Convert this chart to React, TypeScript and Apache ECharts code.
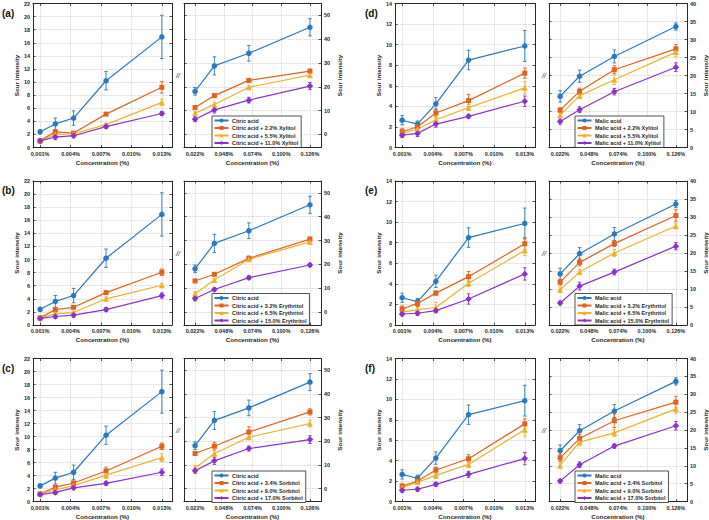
import React, { useEffect, useRef } from 'react';
import * as echarts from 'echarts';

// ---------- data ----------
const lowConc = [0.001, 0.0025, 0.0043, 0.0075, 0.013];
const highConc = [0.022, 0.0395, 0.0707, 0.126];
const lowTickValues = [0.001, 0.004, 0.007, 0.010, 0.013];
const highTickValues = [0.022, 0.048, 0.074, 0.100, 0.126];

const panelLabels = ['(a)', '(b)', '(c)', '(d)', '(e)', '(f)'];
const acidNames = ['Citric acid', 'Malic acid'];
const sweetenerNames = [
  ['2.2% Xylitol', '5.5% Xylitol', '11.0% Xylitol'],
  ['3.2% Erythritol', '6.5% Erythritol', '15.0% Erythritol'],
  ['3.4% Sorbitol', '9.0% Sorbitol', '17.0% Sorbitol'],
];

// citric acid alone
const citricLow = [2.4, 3.6, 4.5, 10.2, 16.9];
const citricLowErr = [0.3, 0.9, 1.1, 1.4, 3.3];
const citricHigh = [18.1, 28.8, 34.1, 45.0];
const citricHighErr = [1.6, 3.8, 3.3, 3.6];
// malic acid alone
const malicLow = [2.65, 2.28, 4.25, 8.5, 9.87];
const malicLowErr = [0.45, 0.3, 0.6, 0.95, 1.5];
const malicHigh = [14.2, 19.8, 25.3, 33.6];
const malicHighErr = [1.6, 1.7, 1.8, 1.0];

// (a) citric + xylitol
const citXyl22Low = [1.05, 2.4, 2.2, 5.1, 9.2];
const citXyl22LowErr = [0.2, 0.3, 0.2, 0.2, 0.9];
const citXyl55Low = [1.0, 2.0, 2.1, 3.5, 6.9];
const citXyl55LowErr = [0.2, 0.3, 0.2, 0.2, 0.5];
const citXyl110Low = [1.0, 1.6, 1.8, 3.2, 5.2];
const citXyl110LowErr = [0.2, 0.4, 0.3, 0.3, 0.3];
const citXyl22High = [11.3, 16.3, 22.7, 26.6];
const citXyl22HighErr = [0.8, 0.6, 0.6, 0.8];
const citXyl55High = [8.9, 12.6, 19.8, 24.9];
const citXyl55HighErr = [0.6, 1.0, 0.6, 1.0];
const citXyl110High = [6.4, 10.3, 14.4, 20.3];
const citXyl110HighErr = [0.9, 1.3, 1.2, 1.5];

// (b) citric + erythritol
const citEry32Low = [1.1, 2.35, 2.7, 4.95, 8.06];
const citEry32LowErr = [0.2, 0.3, 0.2, 0.2, 0.5];
const citEry65Low = [1.1, 1.7, 1.9, 4.0, 6.07];
const citEry65LowErr = [0.2, 0.2, 0.2, 0.3, 0.3];
const citEry150Low = [1.0, 1.3, 1.5, 2.35, 4.5];
const citEry150LowErr = [0.2, 0.3, 0.3, 0.3, 0.4];
const citEry32High = [13.0, 15.8, 22.5, 30.6];
const citEry32HighErr = [0.7, 0.7, 1.0, 0.8];
const citEry65High = [7.6, 13.4, 22.1, 29.4];
const citEry65HighErr = [0.8, 0.7, 0.9, 0.7];
const citEry150High = [5.6, 9.4, 14.4, 19.7];
const citEry150HighErr = [0.9, 0.7, 0.8, 0.7];

// (c) citric + sorbitol
const citSor34Low = [1.17, 2.2, 2.85, 4.7, 8.5];
const citSor34LowErr = [0.15, 0.3, 0.3, 0.6, 0.5];
const citSor90Low = [1.2, 1.8, 2.45, 4.05, 6.75];
const citSor90LowErr = [0.2, 0.3, 0.3, 0.5, 0.6];
const citSor170Low = [1.07, 1.4, 2.1, 2.8, 4.5];
const citSor170LowErr = [0.3, 0.3, 0.3, 0.3, 0.5];
const citSor34High = [14.8, 17.9, 23.9, 32.4];
const citSor34HighErr = [0.8, 1.6, 2.2, 1.3];
const citSor90High = [8.7, 14.8, 21.7, 27.5];
const citSor90HighErr = [0.8, 1.2, 1.0, 1.4];
const citSor170High = [7.5, 11.7, 16.9, 20.7];
const citSor170HighErr = [1.0, 1.5, 1.0, 1.6];

// (d) malic + xylitol
const malXyl22Low = [1.53, 2.02, 3.35, 4.56, 7.23];
const malXyl22LowErr = [0.3, 0.2, 0.4, 0.6, 0.5];
const malXyl55Low = [1.37, 1.8, 2.7, 3.88, 5.8];
const malXyl55LowErr = [0.4, 0.2, 0.3, 0.3, 0.6];
const malXyl110Low = [1.2, 1.37, 2.28, 3.03, 4.5];
const malXyl110LowErr = [0.2, 0.3, 0.3, 0.2, 0.5];
const malXyl22High = [10.4, 15.6, 21.6, 27.4];
const malXyl22HighErr = [0.6, 0.9, 1.1, 1.2];
const malXyl55High = [9.0, 14.4, 18.8, 26.5];
const malXyl55HighErr = [0.6, 0.8, 1.3, 1.3];
const malXyl110High = [7.2, 10.5, 15.5, 22.3];
const malXyl110HighErr = [0.7, 0.8, 0.9, 1.2];

// (e) malic + erythritol
const malEry32Low = [1.56, 2.1, 3.1, 4.7, 7.9];
const malEry32LowErr = [0.3, 0.3, 0.2, 0.5, 0.6];
const malEry65Low = [1.23, 1.5, 1.7, 4.05, 7.25];
const malEry65LowErr = [0.2, 0.2, 0.5, 0.3, 0.5];
const malEry150Low = [1.07, 1.14, 1.4, 2.53, 4.97];
const malEry150LowErr = [0.2, 0.2, 0.2, 0.5, 0.6];
const malEry32High = [11.9, 17.4, 22.6, 30.4];
const malEry32HighErr = [0.8, 1.0, 0.8, 1.6];
const malEry65High = [9.8, 14.7, 20.0, 27.5];
const malEry65HighErr = [0.7, 0.7, 1.0, 0.8];
const malEry150High = [6.1, 10.8, 14.7, 21.9];
const malEry150HighErr = [0.5, 1.1, 0.8, 1.0];

// (f) malic + sorbitol
const malSor34Low = [1.52, 2.0, 3.08, 4.18, 7.6];
const malSor34LowErr = [0.2, 0.2, 0.3, 0.4, 0.5];
const malSor90Low = [1.36, 1.9, 2.56, 3.63, 7.03];
const malSor90LowErr = [0.2, 0.2, 0.3, 0.3, 0.7];
const malSor170Low = [1.1, 1.2, 1.68, 2.66, 4.2];
const malSor170LowErr = [0.2, 0.2, 0.2, 0.3, 0.6];
const malSor34High = [12.2, 17.6, 22.6, 27.8];
const malSor34HighErr = [1.0, 1.1, 1.9, 1.6];
const malSor90High = [10.1, 16.6, 19.2, 25.9];
const malSor90HighErr = [0.7, 1.0, 1.0, 1.4];
const malSor170High = [5.7, 10.3, 15.5, 21.2];
const malSor170HighErr = [0.5, 0.8, 0.6, 1.2];

// ---------- styles / layout ----------
const FONT = '"Liberation Sans", Arial, Helvetica, sans-serif';
const COLORS = ['#2a78bd', '#e0621e', '#f0b12a', '#8a30cc'];
const SYMBOLS = ['circle', 'rect', 'triangle', 'diamond'];
const SYMBOL_SIZES = [5.5, 5, 6, 6.5];
const INK = '#262626';

const COLS = [
  { lx: 33, lw: 139, rx: 184, rw: 137, labelX: 2, slashX: 178, legendX: 212 },
  { lx: 395, lw: 140, rx: 549, rw: 141, labelX: 365, slashX: 544, legendX: 575 },
];
const ROW_TOPS = [3.5, 181, 358.5];
const H = 144;

type Panel = {
  col: number; row: number; acid: number; sweet: number;
  low: number[][]; lowErr: number[][]; high: number[][]; highErr: number[][];
};

const panels: Panel[] = [
  { col: 0, row: 0, acid: 0, sweet: 0,
    low: [citricLow, citXyl22Low, citXyl55Low, citXyl110Low],
    lowErr: [citricLowErr, citXyl22LowErr, citXyl55LowErr, citXyl110LowErr],
    high: [citricHigh, citXyl22High, citXyl55High, citXyl110High],
    highErr: [citricHighErr, citXyl22HighErr, citXyl55HighErr, citXyl110HighErr] },
  { col: 0, row: 1, acid: 0, sweet: 1,
    low: [citricLow, citEry32Low, citEry65Low, citEry150Low],
    lowErr: [citricLowErr, citEry32LowErr, citEry65LowErr, citEry150LowErr],
    high: [citricHigh, citEry32High, citEry65High, citEry150High],
    highErr: [citricHighErr, citEry32HighErr, citEry65HighErr, citEry150HighErr] },
  { col: 0, row: 2, acid: 0, sweet: 2,
    low: [citricLow, citSor34Low, citSor90Low, citSor170Low],
    lowErr: [citricLowErr, citSor34LowErr, citSor90LowErr, citSor170LowErr],
    high: [citricHigh, citSor34High, citSor90High, citSor170High],
    highErr: [citricHighErr, citSor34HighErr, citSor90HighErr, citSor170HighErr] },
  { col: 1, row: 0, acid: 1, sweet: 0,
    low: [malicLow, malXyl22Low, malXyl55Low, malXyl110Low],
    lowErr: [malicLowErr, malXyl22LowErr, malXyl55LowErr, malXyl110LowErr],
    high: [malicHigh, malXyl22High, malXyl55High, malXyl110High],
    highErr: [malicHighErr, malXyl22HighErr, malXyl55HighErr, malXyl110HighErr] },
  { col: 1, row: 1, acid: 1, sweet: 1,
    low: [malicLow, malEry32Low, malEry65Low, malEry150Low],
    lowErr: [malicLowErr, malEry32LowErr, malEry65LowErr, malEry150LowErr],
    high: [malicHigh, malEry32High, malEry65High, malEry150High],
    highErr: [malicHighErr, malEry32HighErr, malEry65HighErr, malEry150HighErr] },
  { col: 1, row: 2, acid: 1, sweet: 2,
    low: [malicLow, malSor34Low, malSor90Low, malSor170Low],
    lowErr: [malicLowErr, malSor34LowErr, malSor90LowErr, malSor170LowErr],
    high: [malicHigh, malSor34High, malSor90High, malSor170High],
    highErr: [malicHighErr, malSor34HighErr, malSor90HighErr, malSor170HighErr] },
];

// map concentration to tick-index units so ticks fall on the labelled values
const toUnit = (ticks: number[], x: number) => (x - ticks[0]) / (ticks[1] - ticks[0]);
const isInt = (v: number) => Math.abs(v - Math.round(v)) < 1e-6;

function errorBarSeries(color: string, xi: number, yi: number, data: number[][]) {
  return {
    type: 'custom',
    xAxisIndex: xi,
    yAxisIndex: yi,
    z: 1,
    silent: true,
    encode: { x: 0, y: [1, 2] },
    data,
    renderItem: (_p: any, api: any) => {
      const x = api.value(0);
      const a = api.coord([x, api.value(1)]);
      const b = api.coord([x, api.value(2)]);
      const w = 1.8;
      const style = { stroke: color, lineWidth: 0.9 };
      return {
        type: 'group',
        children: [
          { type: 'line', shape: { x1: a[0], y1: a[1], x2: b[0], y2: b[1] }, style },
          { type: 'line', shape: { x1: a[0] - w, y1: a[1], x2: a[0] + w, y2: a[1] }, style },
          { type: 'line', shape: { x1: b[0] - w, y1: b[1], x2: b[0] + w, y2: b[1] }, style },
        ],
      };
    },
  };
}

function buildOption() {
  const grid: any[] = [];
  const xAxis: any[] = [];
  const yAxis: any[] = [];
  const series: any[] = [];
  const legend: any[] = [];
  const graphic: any[] = [];

  const axisLine = { show: true, onZero: false, lineStyle: { color: INK, width: 1 } };
  const tick = { show: true, inside: true, length: 2.5, lineStyle: { color: INK, width: 0.8 } };
  const splitLine = { show: true, lineStyle: { color: '#c4c4c4', type: 'dotted', width: 0.8 } };
  const labelStyle = { fontSize: 5.5, fontWeight: 'bold', color: INK, fontFamily: FONT };
  const nameStyle = { fontSize: 6.2, fontWeight: 'bold', color: INK, fontFamily: FONT };

  panels.forEach((p, pi) => {
    const col = COLS[p.col];
    const top = ROW_TOPS[p.row];
    const acid = acidNames[p.acid];
    const names = [acid, ...sweetenerNames[p.sweet].map((s) => `${acid} + ${s}`)];

    ['low', 'high'].forEach((kind) => {
      const isLow = kind === 'low';
      const gi = grid.length;
      grid.push({
        left: isLow ? col.lx : col.rx,
        top,
        width: isLow ? col.lw : col.rw,
        height: H,
      });
      const ticks = isLow ? lowTickValues : highTickValues;
      const conc = isLow ? lowConc : highConc;
      const xr = isLow ? [0.0003, 0.014] : [0.012, 0.136];
      const xBase = {
        type: 'value',
        gridIndex: gi,
        min: toUnit(ticks, xr[0]),
        max: toUnit(ticks, xr[1]),
        minInterval: 1,
        maxInterval: 1,
        axisLine,
        axisTick: tick,
      };
      xAxis.push({
        ...xBase,
        position: 'bottom',
        splitLine,
        axisLabel: {
          ...labelStyle,
          margin: 3,
          showMinLabel: false,
          showMaxLabel: false,
          formatter: (v: number) =>
            isInt(v) && ticks[Math.round(v)] !== undefined ? ticks[Math.round(v)].toFixed(3) + '%' : '',
        },
        name: 'Concentration (%)',
        nameLocation: 'middle',
        nameGap: 11.5,
        nameTextStyle: nameStyle,
      });
      xAxis.push({ ...xBase, position: 'top', splitLine: { show: false }, axisLabel: { show: false } });

      let yMain: any;
      const citric = p.acid === 0;
      if (isLow) {
        yMain = { min: 0, max: citric ? 22 : 14, interval: 2 };
      } else if (citric) {
        yMain = { min: -5.5, max: 55, minInterval: 10, maxInterval: 10 };
      } else {
        yMain = { min: 0, max: 40, interval: 5 };
      }
      const yBase = { type: 'value', gridIndex: gi, ...yMain, axisLine, axisTick: tick };
      yAxis.push({
        ...yBase,
        position: isLow ? 'left' : 'right',
        splitLine,
        axisLabel: {
          ...labelStyle,
          margin: 3,
          showMinLabel: !(yMain.min < 0),
          showMaxLabel: !(yMain.max === 55),
          formatter: (v: number) => (isInt(v) ? String(Math.round(v)) : ''),
        },
        name: 'Sour intensity',
        nameLocation: 'middle',
        nameRotate: 90,
        nameGap: isLow ? 13 : 15,
        nameTextStyle: nameStyle,
      });
      yAxis.push({
        ...yBase,
        position: isLow ? 'right' : 'left',
        splitLine: { show: false },
        axisLabel: { show: false },
      });

      const xi = gi * 2;
      const yi = gi * 2;
      const vals = isLow ? p.low : p.high;
      const errs = isLow ? p.lowErr : p.highErr;
      vals.forEach((arr, si) => {
        const pts = arr.map((v, k) => [toUnit(ticks, conc[k]), v]);
        series.push({
          type: 'line',
          name: names[si],
          xAxisIndex: xi,
          yAxisIndex: yi,
          z: 3,
          data: pts,
          symbol: SYMBOLS[si],
          symbolSize: SYMBOL_SIZES[si],
          showSymbol: true,
          color: COLORS[si],
          itemStyle: { color: COLORS[si] },
          lineStyle: { color: COLORS[si], width: 1.2 },
          silent: true,
        });
        series.push(
          errorBarSeries(
            COLORS[si],
            xi,
            yi,
            arr.map((v, k) => [toUnit(ticks, conc[k]), v - errs[si][k], v + errs[si][k]])
          )
        );
      });
    });

    legend.push({
      orient: 'vertical',
      left: col.legendX,
      top: top + 112.5,
      data: names,
      selectedMode: false,
      itemWidth: 14,
      itemHeight: 5,
      itemGap: 1.5,
      padding: [1.5, 3, 1.5, 1.5],
      backgroundColor: '#fff',
      borderColor: INK,
      borderWidth: 0.8,
      textStyle: { fontSize: 5.5, fontWeight: 'bold', color: INK, fontFamily: FONT, lineHeight: 6, padding: [0, 0, 0, -1.5] },
    });

    graphic.push({
      type: 'text',
      x: col.labelX,
      y: top + 9.5,
      style: { text: panelLabels[pi], font: `bold 10px ${FONT}`, fill: '#111', verticalAlign: 'middle' },
    });
    graphic.push({
      type: 'text',
      x: col.slashX,
      y: top + H / 2,
      style: { text: '//', font: `italic 7px ${FONT}`, fill: INK, align: 'center', verticalAlign: 'middle' },
    });
  });

  return {
    animation: false,
    backgroundColor: '#fff',
    textStyle: { fontFamily: FONT },
    grid,
    xAxis,
    yAxis,
    series,
    legend,
    graphic,
  };
}

export default function App() {
  const ref = useRef<HTMLDivElement>(null);
  useEffect(() => {
    if (!ref.current) return;
    const chart = echarts.init(ref.current, undefined, { renderer: 'svg' });
    chart.setOption(buildOption() as any);
    return () => chart.dispose();
  }, []);
  return (
    <div
      ref={ref}
      style={{ position: 'fixed', left: 0, top: 0, width: 709, height: 520, background: '#fff' }}
    />
  );
}
